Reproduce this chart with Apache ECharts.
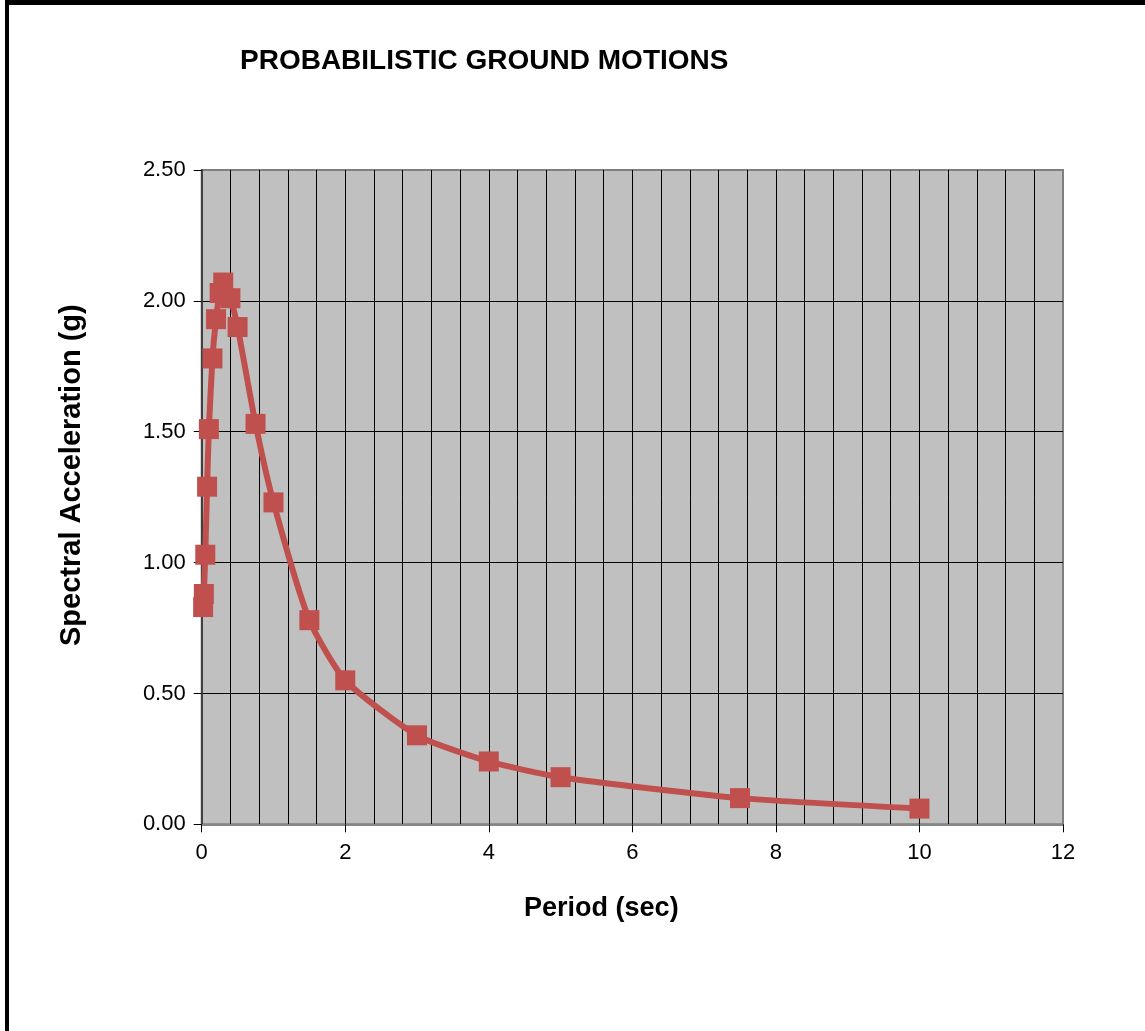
<!DOCTYPE html>
<html>
<head>
<meta charset="utf-8">
<script src="https://cdn.jsdelivr.net/npm/echarts@6/dist/echarts.min.js"></script>
<style>
html,body{margin:0;padding:0;background:#fff;}
#chart{position:absolute;left:0;top:0;width:1145px;height:1031px;}
#frame{position:absolute;left:5px;top:0;width:1140px;height:1031px;border-top:5px solid #000;border-left:4px solid #000;box-sizing:border-box;pointer-events:none;}
</style>
</head>
<body>
<div id="chart"></div>
<div id="frame"></div>
<script>
const titleText = 'PROBABILISTIC GROUND MOTIONS';
const xName = 'Period (sec)';
const yName = 'Spectral Acceleration (g)';
const periods = [0.02, 0.03, 0.05, 0.075, 0.1, 0.15, 0.2, 0.25, 0.3, 0.4, 0.5, 0.75, 1.0, 1.5, 2, 3, 4, 5, 7.5, 10];
const accel   = [0.83, 0.88, 1.03, 1.29, 1.51, 1.78, 1.93, 2.03, 2.07, 2.01, 1.90, 1.53, 1.23, 0.78, 0.55, 0.34, 0.24, 0.18, 0.10, 0.06];
const xTicks = [0, 2, 4, 6, 8, 10, 12];
const yTicks = [0, 0.5, 1.0, 1.5, 2.0, 2.5];

const chart = echarts.init(document.getElementById('chart'), null, {renderer: 'canvas'});
const font = '"Liberation Sans", Arial, sans-serif';
chart.setOption({
  animation: false,
  backgroundColor: '#fff',
  title: {
    text: titleText, left: 235, top: 42,
    textStyle: {fontFamily: font, fontSize: 28, fontWeight: 'bold', color: '#000'}
  },
  grid: {
    left: 201.7, right: 82, top: 170, bottom: 206.7,
    show: true, backgroundColor: '#c0c0c0', borderColor: '#7f7f7f', borderWidth: 2
  },
  xAxis: {
    type: 'value', min: xTicks[0], max: xTicks[xTicks.length - 1], interval: 2,
    name: xName, nameLocation: 'middle', nameGap: 71,
    nameTextStyle: {fontFamily: font, fontSize: 27, fontWeight: 'bold', color: '#000', padding: [0, 62, 0, 0]},
    axisLine: {show: true, onZero: false, lineStyle: {color: '#868686', width: 2}},
    axisTick: {show: true, length: 8, lineStyle: {color: '#000', width: 1}},
    minorTick: {show: false, splitNumber: 5},
    axisLabel: {fontFamily: font, fontSize: 22, color: '#000', margin: 18},
    splitLine: {show: true, showMinLine: false, showMaxLine: false, lineStyle: {color: '#000', width: 1}},
    minorSplitLine: {show: true, lineStyle: {color: '#000', width: 1}}
  },
  yAxis: {
    type: 'value', min: yTicks[0], max: yTicks[yTicks.length - 1], interval: 0.5,
    name: yName, nameLocation: 'middle', nameGap: 115,
    nameTextStyle: {fontFamily: font, fontSize: 29, fontWeight: 'bold', color: '#000', padding: [0, 0, 0, 44]},
    axisLine: {show: true, lineStyle: {color: '#404040', width: 2}},
    axisTick: {show: true, length: 8, lineStyle: {color: '#000', width: 1}},
    axisLabel: {fontFamily: font, fontSize: 22, color: '#000', margin: 16, formatter: v => v.toFixed(2)},
    splitLine: {show: true, showMinLine: false, showMaxLine: false, lineStyle: {color: '#000', width: 1}}
  },
  series: [{
    type: 'line',
    data: periods.map((p, i) => [p, accel[i]]),
    smooth: 0.2,
    symbol: 'rect', symbolSize: 20,
    lineStyle: {color: '#c0504d', width: 6},
    itemStyle: {color: '#c0504d', opacity: 1},
    z: 3
  }]
});
</script>
</body>
</html>
